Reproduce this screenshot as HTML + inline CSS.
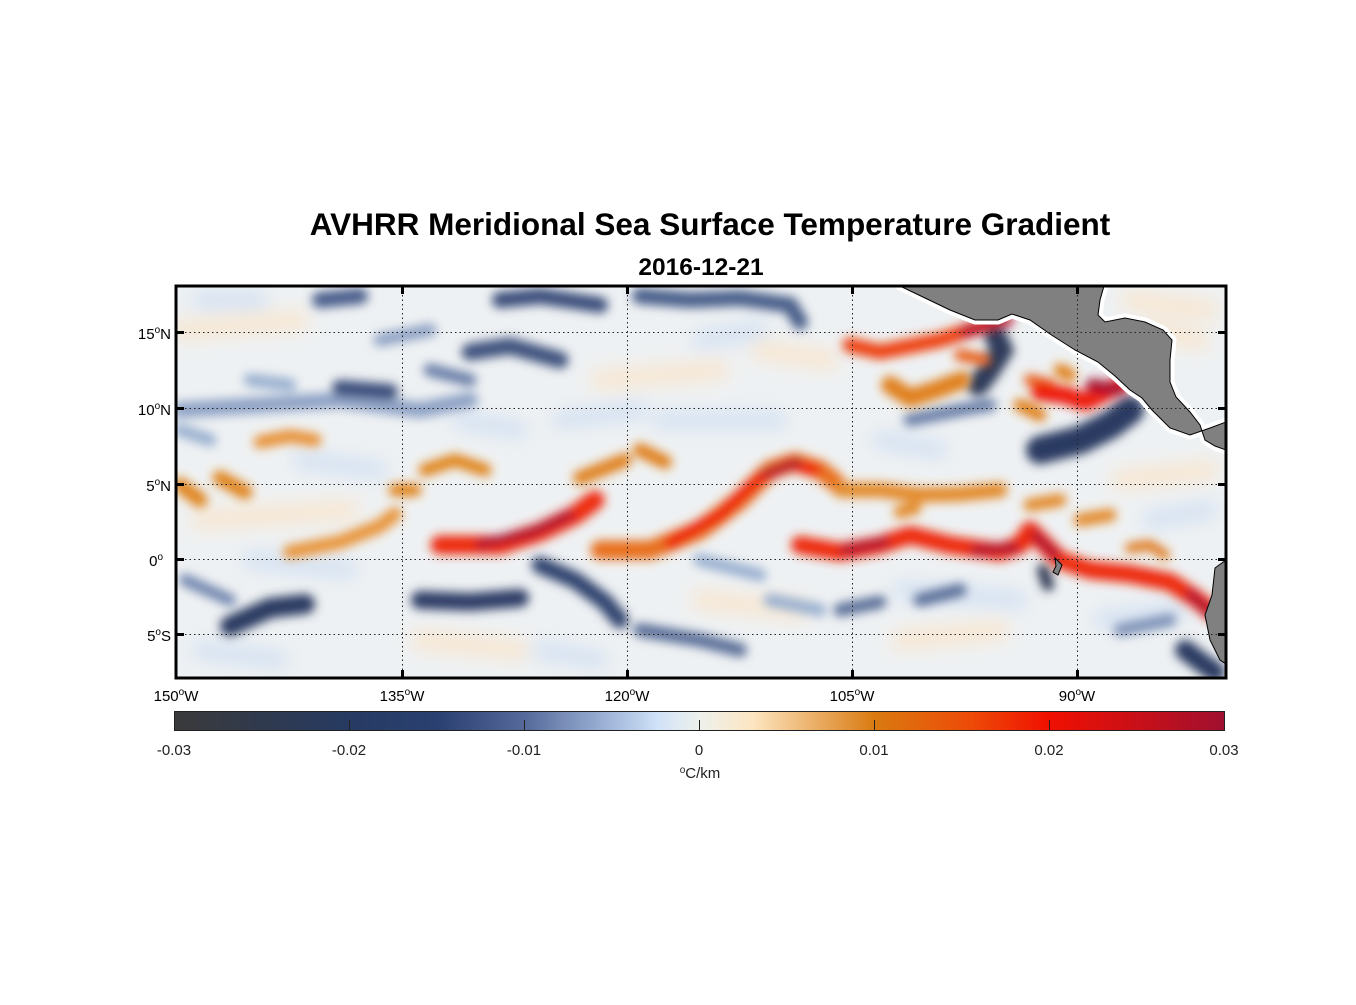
<!DOCTYPE html>
<html><head><meta charset="utf-8"><style>
body{margin:0;background:#fff;}
svg text{font-family:"Liberation Sans",Arial,sans-serif;}
</style></head><body>
<svg width="1356" height="1000" viewBox="0 0 1356 1000" xmlns="http://www.w3.org/2000/svg">
<defs>
<filter id="b6" x="-20%" y="-50%" width="140%" height="200%"><feGaussianBlur stdDeviation="5"/></filter>
<filter id="b10" x="-20%" y="-50%" width="140%" height="200%"><feGaussianBlur stdDeviation="9"/></filter>
<clipPath id="mc"><rect x="176" y="286" width="1050" height="392"/></clipPath>
<linearGradient id="cb" x1="0" x2="1" y1="0" y2="0">
<stop offset="0" stop-color="#3a3a3a"/>
<stop offset="0.167" stop-color="#263a62"/>
<stop offset="0.25" stop-color="#2a4070"/>
<stop offset="0.333" stop-color="#55699a"/>
<stop offset="0.42" stop-color="#a6bbdd"/>
<stop offset="0.46" stop-color="#d0e2f8"/>
<stop offset="0.5" stop-color="#eef1ec"/>
<stop offset="0.55" stop-color="#fde6c2"/>
<stop offset="0.667" stop-color="#d97a10"/>
<stop offset="0.76" stop-color="#ee4a08"/>
<stop offset="0.833" stop-color="#f01000"/>
<stop offset="1" stop-color="#a01030"/>
</linearGradient>
</defs>
<text x="710" y="235" font-size="31.5" font-weight="bold" text-anchor="middle">AVHRR Meridional Sea Surface Temperature Gradient</text>
<text x="701" y="275" font-size="24.5" font-weight="bold" text-anchor="middle">2016-12-21</text>

<g clip-path="url(#mc)">
<rect x="176" y="286" width="1050" height="392" fill="#eef1f3"/>
<g filter="url(#b10)" fill="none" stroke-linecap="round" opacity="0.7">
<path d="M180 330 L300 320 M600 380 L720 370 M200 520 L350 510 M700 600 L800 610 M900 640 L1000 630 M420 640 L520 650 M1120 480 L1210 470 M760 350 L830 360 M1130 300 L1210 310 M1150 330 L1200 340" stroke="#fde2c0" stroke-width="18"/>
<path d="M250 560 L350 570 M660 420 L780 420 M300 460 L380 470 M900 590 L1020 600 M1100 620 L1180 610 M560 420 L640 410 M200 300 L260 300 M700 340 L760 330 M880 440 L940 450 M460 420 L520 430 M200 650 L280 660 M540 650 L600 660 M1150 520 L1210 510" stroke="#c6d9f2" stroke-width="16"/>
</g>
<g filter="url(#b6)" fill="none" stroke-linecap="round">
<path d="M180 410 L260 405 L340 400 L420 410 L470 400" stroke="#8fa3c6" stroke-width="16"/>
<path d="M230 626 L270 608 L305 604" stroke="#2a3a62" stroke-width="20"/>
<path d="M185 580 L230 600" stroke="#6f84ad" stroke-width="12"/>
<path d="M320 300 L360 296" stroke="#4b5f8c" stroke-width="16"/>
<path d="M340 388 L390 392" stroke="#3a4d7a" stroke-width="16"/>
<path d="M470 352 L510 346 L560 360" stroke="#3f527e" stroke-width="17"/>
<path d="M500 300 L540 296 L600 305" stroke="#3a4d7a" stroke-width="16"/>
<path d="M640 296 L690 300 L740 298 L790 305 L800 322" stroke="#4a5e8a" stroke-width="16"/>
<path d="M420 600 L470 602 L520 598" stroke="#2d3d66" stroke-width="18"/>
<path d="M540 565 L575 580 L605 602 L620 620" stroke="#33456f" stroke-width="17"/>
<path d="M640 630 L700 640 L740 650" stroke="#5a6e98" stroke-width="14"/>
<path d="M430 370 L470 380" stroke="#6a7fa8" stroke-width="13"/>
<path d="M380 340 L430 330" stroke="#8ea2c4" stroke-width="13"/>
<path d="M995 335 L1002 350 L988 372 L978 385" stroke="#2e3b5a" stroke-width="22"/>
<path d="M1040 450 L1080 440 L1110 425 L1130 410" stroke="#2a3a62" stroke-width="28"/>
<path d="M910 420 L960 410 L990 405" stroke="#6a7fa8" stroke-width="13"/>
<path d="M1185 650 L1205 665 L1215 672" stroke="#2a3a62" stroke-width="20"/>
<path d="M840 610 L880 602 M920 600 L960 590" stroke="#5a6e98" stroke-width="13"/>
<path d="M1043 570 L1048 585" stroke="#2a3550" stroke-width="12"/>
<path d="M180 430 L210 440 M250 380 L290 385" stroke="#9ab0d0" stroke-width="13"/>
<path d="M700 560 L760 575 M770 600 L820 610" stroke="#9ab0d0" stroke-width="13"/>
<path d="M1120 630 L1170 620" stroke="#7f93b8" stroke-width="13"/>
</g>
<g filter="url(#b6)" fill="none" stroke-linecap="round" stroke-linejoin="round">
<path d="M180 485 L200 500 M220 478 L245 492" stroke="#e0841a" stroke-width="15"/>
<path d="M260 442 L290 436 L315 440" stroke="#e89035" stroke-width="13"/>
<path d="M290 552 L340 542 L380 526 L395 514" stroke="#e8943a" stroke-width="14"/>
<path d="M395 490 L415 490 M425 470 L455 460 L485 470" stroke="#e0841a" stroke-width="13"/>
<path d="M440 545 L500 545 L540 532 L575 515 L595 500" stroke="#ee2a0a" stroke-width="19"/>
<path d="M480 544 L530 533 L570 515" stroke="#a81530" stroke-width="9"/>
<path d="M580 478 L610 466 L625 460 M640 450 L665 462" stroke="#e0801a" stroke-width="14"/>
<path d="M600 550 L650 550 L700 530 L740 500 L770 470 L795 462 L820 470 L835 482" stroke="#e8701a" stroke-width="19"/>
<path d="M670 543 L720 515 L760 478 L790 464 L815 470" stroke="#ee1a0a" stroke-width="12"/>
<path d="M765 474 L798 462" stroke="#a81530" stroke-width="8"/>
<path d="M800 545 L840 552 L880 545 L910 535 L950 545 L1000 552 L1020 545 L1030 530 L1045 545 L1060 560 L1090 570 L1130 574 L1170 582 L1198 600 L1212 612" stroke="#ee2a0a" stroke-width="18"/>
<path d="M845 550 L885 542 M975 550 L1015 548 M1035 535 L1055 555 M1190 594 L1210 612" stroke="#a81530" stroke-width="9"/>
<path d="M850 345 L880 352 L910 346 L940 340 L970 330 L995 322" stroke="#ee400a" stroke-width="15"/>
<path d="M965 332 L1008 320" stroke="#b8102a" stroke-width="11"/>
<path d="M890 385 L910 398 L935 390 L962 380" stroke="#e0801a" stroke-width="18"/>
<path d="M960 355 L985 360 M1030 380 L1050 385" stroke="#e8601a" stroke-width="12"/>
<path d="M1040 392 L1065 395 L1085 402 L1102 394 L1122 384" stroke="#ee1a0a" stroke-width="18"/>
<path d="M1092 385 L1120 390" stroke="#a81530" stroke-width="13"/>
<path d="M1020 405 L1040 415 M1060 370 L1070 375" stroke="#e0801a" stroke-width="13"/>
<path d="M840 490 L880 490 L920 495 L960 494 L1000 490" stroke="#e38a2a" stroke-width="15"/>
<path d="M900 512 L915 508 M1030 505 L1060 500 M1080 520 L1110 515" stroke="#e38a2a" stroke-width="13"/>
<path d="M1130 548 L1150 545 L1165 555" stroke="#e0781a" stroke-width="10"/>
</g>
<path d="M900 286 L925 298 L950 310 L975 320 L998 320 L1012 314 L1030 320 L1050 334 L1075 350 L1098 362 L1115 376 L1130 390 L1142 398 L1152 410 L1170 428 L1190 435 L1210 428 L1226 422 L1226 450 L1215 446 L1205 440 L1200 425 L1190 412 L1176 397 L1170 382 L1170 360 L1172 340 L1163 330 L1145 322 L1125 318 L1105 322 L1098 315 L1100 300 L1104 286 Z" fill="#808080" stroke="#fff" stroke-width="9" stroke-linejoin="round"/>
<path d="M900 286 L925 298 L950 310 L975 320 L998 320 L1012 314 L1030 320 L1050 334 L1075 350 L1098 362 L1115 376 L1130 390 L1142 398 L1152 410 L1170 428 L1190 435 L1210 428 L1226 422 L1226 450 L1215 446 L1205 440 L1200 425 L1190 412 L1176 397 L1170 382 L1170 360 L1172 340 L1163 330 L1145 322 L1125 318 L1105 322 L1098 315 L1100 300 L1104 286 Z" fill="#808080" stroke="#000" stroke-width="1"/>
<path d="M1226 560 L1215 568 L1212 595 L1205 615 L1210 640 L1220 660 L1226 664 Z" fill="#808080" stroke="#000" stroke-width="1"/>
<path d="M1055 558 L1062 565 L1058 575 L1053 572 L1056 566 Z" fill="#808080" stroke="#000" stroke-width="1"/>
<g stroke="#222" stroke-width="1" stroke-dasharray="1.5,3">
<line x1="176" x2="1226" y1="332.5" y2="332.5"/><line x1="176" x2="1226" y1="408.5" y2="408.5"/>
<line x1="176" x2="1226" y1="484.5" y2="484.5"/><line x1="176" x2="1226" y1="559.5" y2="559.5"/>
<line x1="176" x2="1226" y1="634.5" y2="634.5"/>
<line y1="286" y2="678" x1="402.5" x2="402.5"/><line y1="286" y2="678" x1="627.5" x2="627.5"/>
<line y1="286" y2="678" x1="852.5" x2="852.5"/><line y1="286" y2="678" x1="1077.5" x2="1077.5"/>
</g>
</g>
<rect x="176" y="286" width="1050" height="392" fill="none" stroke="#000" stroke-width="3"/>
<g stroke="#000" stroke-width="3">
<path d="M176 332.5h8M176 408.5h8M176 484.5h8M176 559.5h8M176 634.5h8M1226 332.5h-8M1226 408.5h-8M1226 484.5h-8M1226 559.5h-8M1226 634.5h-8"/>
<path d="M402.5 286v8M627.5 286v8M852.5 286v8M1077.5 286v8M402.5 678v-8M627.5 678v-8M852.5 678v-8M1077.5 678v-8"/>
</g>
<g font-size="15" text-anchor="end">
<text x="171" y="339">15<tspan font-size="10" dy="-6">o</tspan><tspan dy="6">N</tspan></text>
<text x="171" y="415">10<tspan font-size="10" dy="-6">o</tspan><tspan dy="6">N</tspan></text>
<text x="171" y="491">5<tspan font-size="10" dy="-6">o</tspan><tspan dy="6">N</tspan></text>
<text x="163" y="566">0<tspan font-size="10" dy="-6">o</tspan></text>
<text x="171" y="641">5<tspan font-size="10" dy="-6">o</tspan><tspan dy="6">S</tspan></text>
</g>
<g font-size="15" text-anchor="middle">
<text x="176" y="701">150<tspan font-size="10" dy="-6">o</tspan><tspan dy="6">W</tspan></text>
<text x="402" y="701">135<tspan font-size="10" dy="-6">o</tspan><tspan dy="6">W</tspan></text>
<text x="627" y="701">120<tspan font-size="10" dy="-6">o</tspan><tspan dy="6">W</tspan></text>
<text x="852" y="701">105<tspan font-size="10" dy="-6">o</tspan><tspan dy="6">W</tspan></text>
<text x="1077" y="701">90<tspan font-size="10" dy="-6">o</tspan><tspan dy="6">W</tspan></text>
</g>
<rect x="174.5" y="711.5" width="1050" height="19" fill="url(#cb)" stroke="#222" stroke-width="1"/>
<g stroke="#222" stroke-width="1"><path d="M349.5 730v-10M524.5 730v-10M699.5 730v-10M874.5 730v-10M1049.5 730v-10"/></g>
<g font-size="15" text-anchor="middle" fill="#222">
<text x="174" y="755">-0.03</text><text x="349" y="755">-0.02</text><text x="524" y="755">-0.01</text>
<text x="699" y="755">0</text><text x="874" y="755">0.01</text><text x="1049" y="755">0.02</text><text x="1224" y="755">0.03</text>
<text x="700" y="778"><tspan font-size="10" dy="-5">o</tspan><tspan dy="5">C/km</tspan></text>
</g>
</svg>
</body></html>
